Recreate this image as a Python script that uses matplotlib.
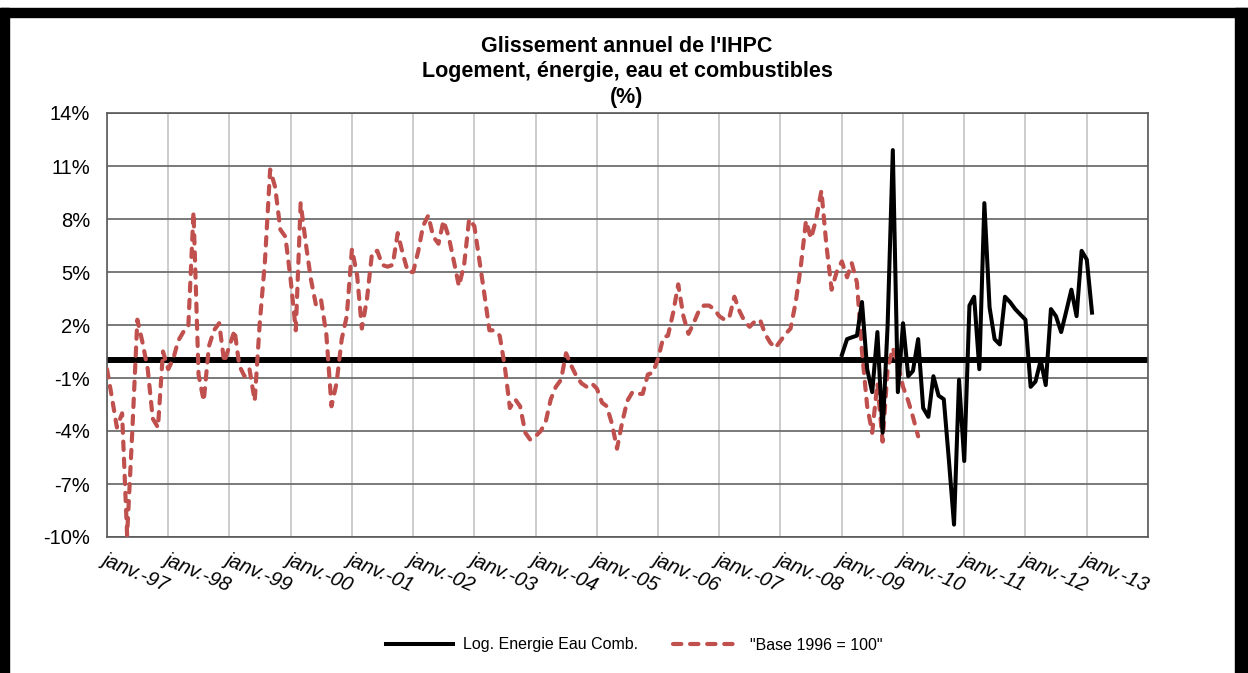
import pandas as pd
import matplotlib
matplotlib.use('Agg')
import matplotlib.pyplot as plt
from matplotlib.patches import Rectangle

plt.rcParams['font.family'] = ['Liberation Sans', 'DejaVu Sans']

# Glissement annuel, "Base 1996 = 100" (mensuel, janv. 1997 -> avr. 2010)
base_1996 = [
    -0.5, -2.2, -3.8, -3.0, -9.9, -4.0, 2.3, 1.0, -0.5, -3.3, -3.8, 0.5,   # 1997
    -0.5, 0.1, 1.1, 1.6, 1.9, 8.4, -0.8, -2.3, 0.8, 1.7, 2.1, -0.1,       # 1998
    0.8, 1.7, -0.3, -0.9, -0.5, -2.3, 2.1, 5.6, 10.8, 9.8, 7.4, 7.0,      # 1999
    4.6, 1.7, 8.9, 6.6, 4.6, 3.1, 3.4, 1.5, -2.6, -1.3, 1.2, 2.5,         # 2000
    6.3, 4.8, 1.8, 3.5, 6.1, 6.2, 5.4, 5.3, 5.4, 7.2, 6.0, 5.0,           # 2001
    5.0, 6.2, 7.6, 8.2, 7.0, 6.6, 7.9, 7.0, 5.6, 4.2, 5.4, 8.0,           # 2002
    7.6, 5.6, 3.8, 1.7, 1.7, 1.4, -0.3, -2.7, -2.2, -2.6, -4.1, -4.5,     # 2003
    -4.3, -4.0, -3.5, -2.2, -1.5, -1.1, 0.4, -0.3, -0.9, -1.3, -1.5, -1.3,  # 2004
    -1.6, -2.4, -2.6, -3.6, -5.0, -3.5, -2.3, -1.8, -1.9, -1.9, -0.8, -0.7,  # 2005
    0.1, 1.3, 1.4, 2.7, 4.3, 2.5, 1.5, 2.1, 2.8, 3.1, 3.1, 2.9,           # 2006
    2.5, 2.3, 2.4, 3.6, 2.8, 2.2, 1.9, 2.2, 2.3, 1.5, 1.0, 0.7,           # 2007
    1.1, 1.5, 1.8, 3.3, 5.3, 7.9, 6.9, 8.0, 9.6, 6.5, 4.0, 5.0,           # 2008
    5.6, 4.7, 5.5, 4.4, 0.5, -2.6, -4.1, -1.3, -4.6, -0.5, 0.7, -0.2,     # 2009
    -1.5, -2.3, -3.2, -4.3,                                               # 2010
]

# Log. Energie Eau Comb. (mensuel, janv. 2009 -> fevr. 2013)
log_energie = [
    0.3, 1.2, 1.3, 1.4, 3.3, -0.5, -1.8, 1.6, -4.1, 2.0, 11.9, -1.8,      # 2009
    2.1, -0.9, -0.6, 1.2, -2.7, -3.2, -0.9, -2.0, -2.2, -5.6, -9.3, -1.1,  # 2010
    -5.7, 3.1, 3.6, -0.5, 8.9, 3.0, 1.2, 0.9, 3.6, 3.3, 2.9, 2.6,         # 2011
    2.3, -1.5, -1.2, 0.0, -1.4, 2.9, 2.5, 1.6, 2.8, 4.0, 2.5, 6.2,        # 2012
    5.7, 2.7,                                                             # 2013
]

dates_base = pd.date_range('1997-01-01', periods=len(base_1996), freq='MS')
dates_log = pd.date_range('2009-01-01', periods=len(log_energie), freq='MS')

years = list(range(1997, 2015))
x_labels = ['janv.-%02d' % (y % 100) for y in years[:-1]] + ['']
y_ticks = list(range(-10, 15, 3))
y_labels = ['%d%%' % v for v in y_ticks]

W, H = 1248, 673
fig = plt.figure(figsize=(W / 100, H / 100), dpi=100)
ax = fig.add_axes([107 / W, 1 - 537 / H, (1148 - 107) / W, (537 - 113) / H])

ax.axhline(0, color='black', lw=4.3, zorder=2)
l_red, = ax.plot(dates_base, base_1996, color='#C0504D', lw=3.0,
                 dashes=(2.0, 2.1), dash_capstyle='round', zorder=3)
l_blk, = ax.plot(dates_log, log_energie, color='black', lw=2.9, zorder=4)

ax.set_xlim(pd.Timestamp('1997-01-01'), pd.Timestamp('2014-01-01'))
ax.set_xticks([pd.Timestamp('%d-01-01' % y) for y in years])
ax.set_xticklabels(x_labels, rotation=-23, ha='left', va='top',
                   rotation_mode='anchor', fontsize=14.5, style='italic')
ax.set_ylim(-10, 14)
ax.set_yticks(y_ticks)
ax.set_yticklabels(y_labels, fontsize=14.5)
ax.tick_params(axis='x', length=0, pad=9)
ax.tick_params(axis='y', length=0, pad=12)

ax.set_axisbelow(True)
ax.xaxis.grid(True, color='#c8c8c8', lw=1.3)
ax.yaxis.grid(True, color='#6e6e6e', lw=1.3)
for sp in ax.spines.values():
    sp.set_color('#595959')
    sp.set_linewidth(1.2)

# titre
tx = 627 / W
title_lines = ["Glissement annuel de l'IHPC",
               'Logement, énergie, eau et combustibles', '(%)']
for line, ypx in zip(title_lines, [46, 72, 98]):
    fig.text(tx, 1 - ypx / H, line, ha='center', va='center',
             fontsize=15.5, fontweight='bold')

fig.legend([l_blk, l_red], ['Log. Energie Eau Comb.', '"Base 1996 = 100"'],
           loc='center', bbox_to_anchor=(634 / W, 1 - 645 / H), ncol=2,
           frameon=False, fontsize=11.5, handlelength=4.2, handletextpad=0.6,
           columnspacing=2.2)

# cadre noir
for x, y, w, h in [(0, H - 17, W, 9), (0, 0, 9, H - 8), (1235, 0, 12, H - 8)]:
    fig.patches.append(Rectangle((x / W, y / H), w / W, h / H,
                                 transform=fig.transFigure, color='black'))

fig.savefig('out.png', dpi=100)
